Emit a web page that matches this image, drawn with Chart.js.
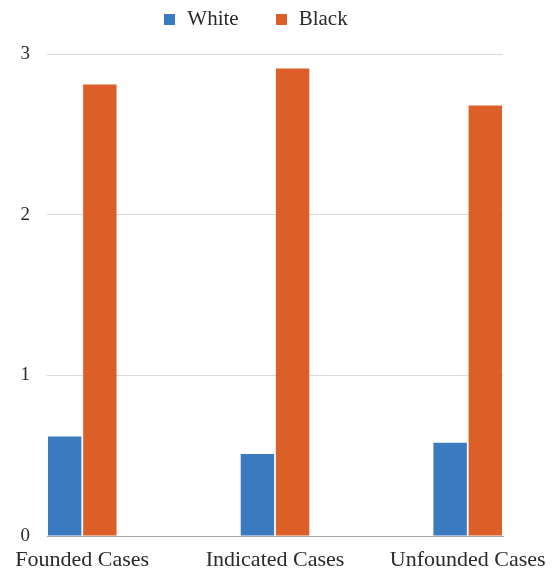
<!DOCTYPE html>
<html>
<head>
<meta charset="utf-8">
<title>Cases by race</title>
<script src="https://cdn.jsdelivr.net/npm/chart.js@4/dist/chart.umd.min.js"></script>
<style>
  html, body { margin: 0; padding: 0; background: #ffffff; }
  #wrap { width: 555px; height: 572px; position: relative; }
</style>
</head>
<body>
<div id="wrap"><canvas id="chart"></canvas></div>
<script>
// Categories along the bottom axis
const categories = ['Founded Cases', 'Indicated Cases', 'Unfounded Cases'];

// Series values, one per category
const whiteValues = [0.62, 0.51, 0.58];
const blackValues = [2.81, 2.91, 2.68];

// Value-axis ticks
const yTicks = [0, 1, 2, 3];

const seriesNames = ['White', 'Black'];
const seriesColors = ['#3a7bbf', '#db5f27'];

const FONT = '"Liberation Serif", "Times New Roman", serif';
const TEXT = '#2a2a2a';

// Bars sit on a numeric index axis so the outer groups can touch the plot edges
const toPoints = vals => vals.map((v, i) => ({ x: i, y: v }));

// Legend row drawn across the top of the canvas
const legendRow = {
  id: 'legendRow',
  afterDraw(chart) {
    const ctx = chart.ctx;
    ctx.save();
    ctx.font = '21px ' + FONT;
    ctx.textBaseline = 'middle';
    ctx.textAlign = 'left';
    const box = 11, gap = 12, spacing = 37, cy = 19.5;
    const items = chart.data.datasets.map(ds => ({
      label: ds.label,
      color: ds.backgroundColor,
      w: ctx.measureText(ds.label).width
    }));
    const total = items.reduce((s, it) => s + box + gap + it.w, 0) + spacing * (items.length - 1);
    let x = 256 - total / 2;
    items.forEach(it => {
      ctx.fillStyle = it.color;
      ctx.fillRect(Math.round(x), Math.round(cy - box / 2), box, box);
      x += box + gap;
      ctx.fillStyle = TEXT;
      ctx.fillText(it.label, x, cy);
      x += it.w + spacing;
    });
    ctx.restore();
  }
};

new Chart(document.getElementById('chart'), {
  type: 'bar',
  data: {
    datasets: [
      { label: seriesNames[0], data: toPoints(whiteValues), backgroundColor: seriesColors[0] },
      { label: seriesNames[1], data: toPoints(blackValues), backgroundColor: seriesColors[1] }
    ]
  },
  options: {
    responsive: true,
    maintainAspectRatio: false,
    devicePixelRatio: 1,
    animation: false,
    categoryPercentage: 0.365,
    barPercentage: 0.95,
    layout: { padding: { top: 54, right: 52, bottom: 0, left: 0 } },
    plugins: {
      legend: { display: false },
      tooltip: { enabled: false }
    },
    scales: {
      x: {
        type: 'linear',
        offset: false,
        min: -0.183,
        max: categories.length - 1 + 0.183,
        grid: { display: false, drawTicks: false, offset: false },
        border: { display: true, color: '#a6a6a6', width: 1 },
        ticks: {
          stepSize: 1,
          includeBounds: false,
          autoSkip: false,
          maxRotation: 0,
          padding: 11,
          color: TEXT,
          font: { family: FONT, size: 22 },
          callback: v => (Number.isInteger(v) && categories[v] !== undefined) ? categories[v] : ''
        },
        afterFit: scale => {
          scale.height = 36;
          scale.paddingLeft = 0;
          scale.paddingRight = 0;
        }
      },
      y: {
        min: yTicks[0],
        max: yTicks[yTicks.length - 1],
        afterBuildTicks: scale => { scale.ticks = yTicks.map(v => ({ value: v })); },
        grid: {
          drawTicks: false,
          color: ctx => (ctx.tick && ctx.tick.value === 0) ? 'rgba(0,0,0,0)' : '#d9d9d9',
          lineWidth: 1
        },
        border: { display: false },
        ticks: {
          padding: 17,
          color: TEXT,
          font: { family: FONT, size: 19 }
        },
        afterFit: scale => {
          scale.width = 47;
          scale.paddingTop = 0;
          scale.paddingBottom = 0;
        }
      }
    }
  },
  plugins: [legendRow]
});
</script>
</body>
</html>
